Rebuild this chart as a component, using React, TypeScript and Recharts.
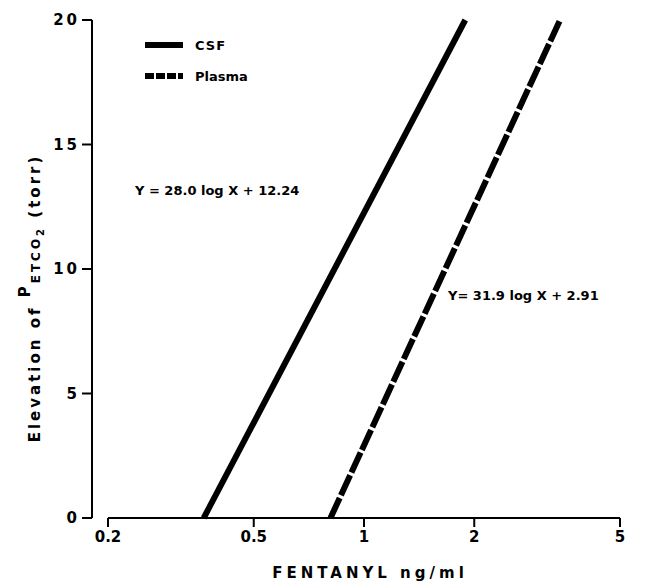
import { Customized, Line, LineChart, ReferenceLine, XAxis, YAxis } from "recharts";

const xTicks = [0.2, 0.5, 1, 2, 5];
const yTicks = [0, 5, 10, 15, 20];

const csfX = [0.365, 1.89];
const csfY = [0, 20];
const plasmaX = [0.81, 3.43];
const plasmaY = [0, 20];

const csf = csfX.map((x, i) => ({ x, y: csfY[i] }));
const plasma = plasmaX.map((x, i) => ({ x, y: plasmaY[i] }));

const FONT = "'DejaVu Sans', sans-serif";
const DASH = "22 3";

function Texts() {
  return (
    <g style={{ fontFamily: FONT, whiteSpace: "pre" }} fontWeight="bold" fill="#000">
      <line x1={145} y1={45} x2={183} y2={45} stroke="#000" strokeWidth={6} />
      <text x={195} y={50} fontSize={13} letterSpacing={1}>CSF</text>
      <line x1={145} y1={76} x2={183} y2={76} stroke="#000" strokeWidth={6} strokeDasharray="9 2" />
      <text x={195} y={81} fontSize={13}>Plasma</text>
      <text x={135} y={195} fontSize={13}>Y = 28.0 log X + 12.24</text>
      <text x={448} y={300} fontSize={13}>Y= 31.9 log X + 2.91</text>
      <text x={370} y={578} fontSize={15} textAnchor="middle" letterSpacing={4}>
        FENTANYL  ng/ml
      </text>
      <text transform="rotate(-90)" x={-298} y={40} fontSize={15} textAnchor="middle" letterSpacing={3}>
        {"Elevation  of  "}
        <tspan dy={-10}>P</tspan>
        <tspan dy={10} fontSize={12}>ETCO</tspan>
        <tspan dy={4} fontSize={10}>2</tspan>
        <tspan dy={-4}>{"  (torr)"}</tspan>
      </text>
    </g>
  );
}

export default function App() {
  return (
    <div style={{ position: "absolute", left: 0, top: 0, background: "#fff" }}>
      <LineChart width={659} height={584} margin={{ top: 20, right: 39, bottom: 36, left: 0 }}>
        <XAxis
          dataKey="x"
          type="number"
          scale="log"
          domain={[0.2, 5]}
          ticks={xTicks}
          allowDataOverflow
          padding={{ left: 16 }}
          height={30}
          axisLine={false}
          tickLine={{ stroke: "#000", strokeWidth: 2 }}
          tickSize={9}
          tickMargin={4}
          tick={{ fill: "#000", fontSize: 15, fontWeight: "bold", fontFamily: FONT }}
        />
        <YAxis
          type="number"
          domain={[0, 20]}
          ticks={yTicks}
          width={92}
          axisLine={{ stroke: "#000", strokeWidth: 2 }}
          tickLine={{ stroke: "#000", strokeWidth: 2 }}
          tickSize={10}
          tickMargin={2}
          tick={{ fill: "#000", fontSize: 15, fontWeight: "bold", fontFamily: FONT, letterSpacing: 3 }}
        />
        <ReferenceLine
          segment={[{ x: 0.2, y: 0 }, { x: 5, y: 0 }]}
          stroke="#000"
          strokeWidth={2}
          ifOverflow="visible"
        />
        <Line
          data={csf}
          dataKey="y"
          stroke="#000"
          strokeWidth={6}
          dot={false}
          isAnimationActive={false}
        />
        <Line
          data={plasma}
          dataKey="y"
          stroke="#000"
          strokeWidth={6}
          strokeDasharray={DASH}
          dot={false}
          isAnimationActive={false}
        />
        <Customized component={Texts} />
      </LineChart>
    </div>
  );
}
